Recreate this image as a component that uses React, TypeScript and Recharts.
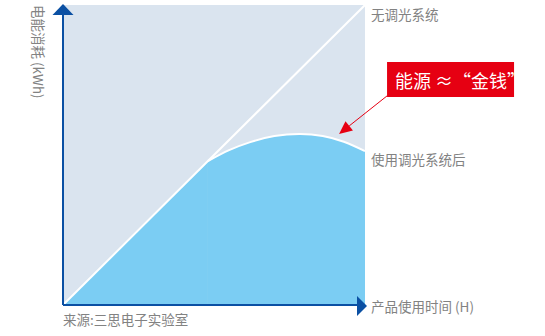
import React from "react";
import {
  ComposedChart,
  Area,
  Line,
  XAxis,
  YAxis,
  ReferenceArea,
  ReferenceLine,
  ReferenceDot,
} from "recharts";

// usage time (%) vs energy (%)
const noDimmingX = [0, 100];
const noDimmingY = [0, 100];

const rampX = [0, 48];
const rampY = [0, 48];

const curveX = [48, 55, 62, 70, 78.5, 86, 93, 100];
const curveY = [48, 51.6, 54.3, 56.3, 57, 56.3, 54.4, 51.3];

const labelNoDim = "无调光系统";
const labelDim = "使用调光系统后";
const labelX = "产品使用时间 (H)";
const labelY = "电能消耗 (kWh)";
const source = "来源:三思电子实验室";
const callout = "能源 ≈“金钱”";

const axisBlue = "#0b50a3";
const bgBlue = "#dae4ef";
const fillBlue = "#7bcdf3";
const gray = "#828282";
const red = "#e60012";
const font = "'Noto Sans CJK SC', 'Noto Sans', sans-serif";

const toRows = (xs: number[], ys: number[]) => xs.map((x, i) => ({ x, y: ys[i] }));

const noDimData = toRows(noDimmingX, noDimmingY);
const rampData = toRows(rampX, rampY);
const curveData = toRows(curveX, curveY);

const textShape = (text: string, dx: number, dy: number, rotate = false) =>
  (props: any) => {
    const { cx, cy } = props;
    const tx = cx + dx;
    const ty = cy + dy;
    return (
      <text
        x={tx}
        y={ty}
        transform={rotate ? `rotate(90 ${tx} ${ty})` : undefined}
        fill={gray}
        fontSize={13.5}
        fontFamily={font}
        dominantBaseline="central"
      >
        {text}
      </text>
    );
  };

const upArrow = (props: any) => {
  const { cx, cy } = props;
  return <polygon points={`${cx},${cy - 1} ${cx - 10.5},${cy + 10} ${cx + 10.5},${cy + 10}`} fill={axisBlue} />;
};

const rightArrow = (props: any) => {
  const { cx, cy } = props;
  return <polygon points={`${cx + 2},${cy + 1} ${cx - 8},${cy - 9} ${cx - 8},${cy + 11}`} fill={axisBlue} />;
};

const calloutBox = (props: any) => {
  const { cx, cy } = props;
  return (
    <g>
      <rect x={cx} y={cy} width={127} height={35} fill={red} />
      <text
        x={cx + 8}
        y={cy + 18}
        fill="#fff"
        fontSize={18}
        fontFamily={font}
        dominantBaseline="central"
      >
        {callout}
      </text>
    </g>
  );
};

const arrowLine = (props: any) => {
  const { x1, y1, x2, y2 } = props;
  const ang = Math.atan2(y2 - y1, x2 - x1);
  const len = 13;
  const w = 6;
  const bx = x2 - len * Math.cos(ang);
  const by = y2 - len * Math.sin(ang);
  const px = -Math.sin(ang) * w;
  const py = Math.cos(ang) * w;
  return (
    <g>
      <line x1={x1} y1={y1} x2={bx} y2={by} stroke={red} strokeWidth={1} />
      <polygon points={`${x2},${y2} ${bx + px},${by + py} ${bx - px},${by - py}`} fill={red} />
    </g>
  );
};

export default function App() {
  return (
    <div style={{ position: "absolute", left: 0, top: 0 }}>
      <ComposedChart
        width={545}
        height={336}
        margin={{ top: 5, right: 180, bottom: 31, left: 63 }}
      >
        <XAxis type="number" dataKey="x" domain={[0, 100]} hide allowDataOverflow />
        <YAxis type="number" dataKey="y" domain={[0, 100]} hide allowDataOverflow />
        <ReferenceArea x1={0} x2={100} y1={0} y2={100} fill={bgBlue} fillOpacity={1} stroke="none" />
        <Area
          data={rampData}
          dataKey="y"
          type="linear"
          fill={fillBlue}
          fillOpacity={1}
          stroke="none"
          isAnimationActive={false}
        />
        <Area
          data={curveData}
          dataKey="y"
          type="natural"
          fill={fillBlue}
          fillOpacity={1}
          stroke="#fff"
          strokeWidth={2}
          isAnimationActive={false}
        />
        <Line
          data={noDimData}
          dataKey="y"
          type="linear"
          stroke="#fff"
          strokeWidth={2}
          dot={false}
          isAnimationActive={false}
        />
        <ReferenceLine
          segment={[{ x: 0, y: 0 }, { x: 0, y: 97 }]}
          stroke={axisBlue}
          strokeWidth={2}
          ifOverflow="visible"
        />
        <ReferenceLine
          segment={[{ x: 0, y: 0 }, { x: 98, y: 0 }]}
          stroke={axisBlue}
          strokeWidth={2}
          ifOverflow="visible"
        />
        <ReferenceDot x={0} y={100} r={0} shape={upArrow} ifOverflow="visible" />
        <ReferenceDot x={100} y={0} r={0} shape={rightArrow} ifOverflow="visible" />
        <ReferenceDot x={100} y={100} r={0} shape={textShape(labelNoDim, 6, 9)} ifOverflow="visible" />
        <ReferenceDot x={100} y={51.3} r={0} shape={textShape(labelDim, 6, 8)} ifOverflow="visible" />
        <ReferenceDot x={100} y={0} r={0} shape={textShape(labelX, 6, 1)} ifOverflow="visible" />
        <ReferenceDot x={0} y={0} r={0} shape={textShape(source, 0, 14)} ifOverflow="visible" />
        <ReferenceDot x={0} y={100} r={0} shape={textShape(labelY, -24, 0, true)} ifOverflow="visible" />
        <ReferenceDot x={107.3} y={81} r={0} shape={calloutBox} ifOverflow="visible" />
        <ReferenceLine
          segment={[{ x: 107.3, y: 69.7 }, { x: 91.4, y: 57 }]}
          shape={arrowLine}
          ifOverflow="visible"
        />
      </ComposedChart>
    </div>
  );
}
